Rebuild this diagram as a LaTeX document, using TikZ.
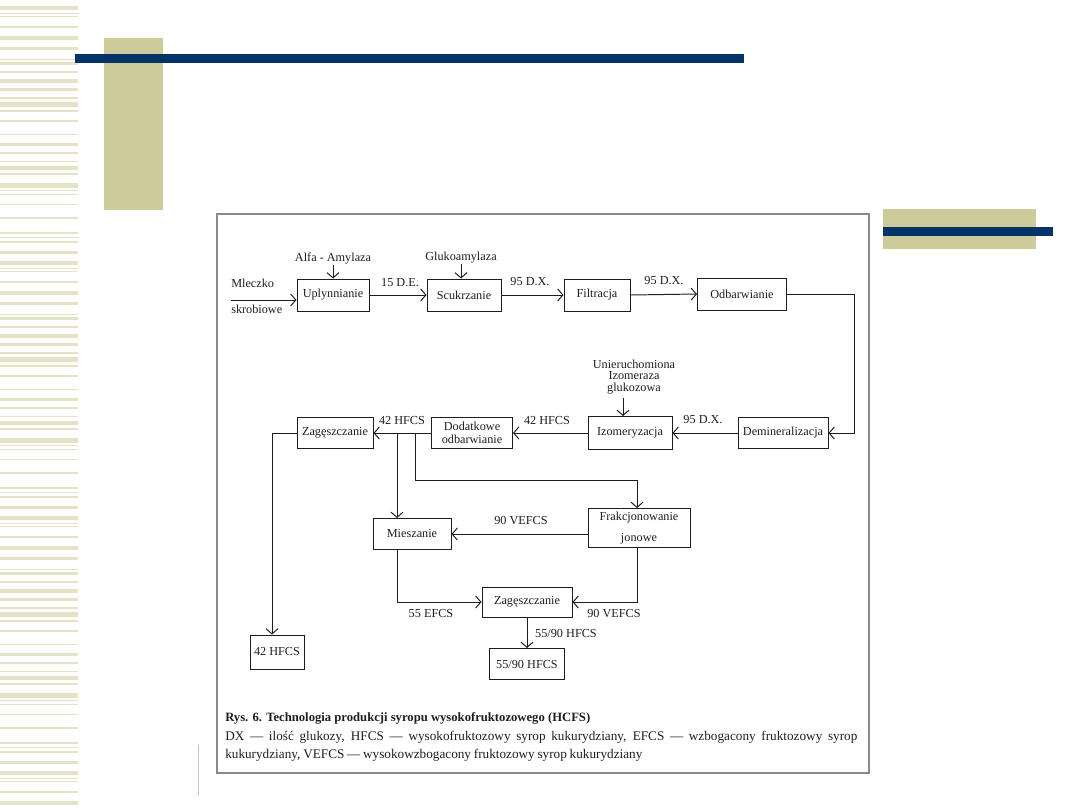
\documentclass[tikz,border=0pt]{standalone}
\usepackage{fontspec}
\setmainfont{Liberation Serif}
\usetikzlibrary{arrows.meta}
\definecolor{slidenavy}{HTML}{003366}
\definecolor{slidekhaki}{HTML}{CCCB99}
\definecolor{slidestripe}{HTML}{E4E3C8}
\definecolor{scanink}{HTML}{1E1E1E}
\definecolor{scanframe}{HTML}{8A8A8A}

\begin{document}
\begin{tikzpicture}[
    x=0.025cm, y=-0.025cm,
    proc/.style={draw=scanink, line width=0.7pt, inner sep=1pt, align=center,
      font=\fontsize{8.7}{9.5}\selectfont, text=scanink},
    flow/.style={draw=scanink, line width=0.7pt, -{Straight Barb[length=0.13cm, width=0.3cm]}},
    link/.style={draw=scanink, line width=0.7pt},
    lbl/.style={font=\fontsize{8.7}{8.4}\selectfont, text=scanink, inner sep=0pt, align=center},
    capt/.style={font=\fontsize{9.4}{11}\selectfont, text=scanink, anchor=west, inner sep=0pt},
  ]

  \def\pxu{0.025cm}
  \useasboundingbox (0,0) rectangle (1080,810);

  % ---- slide decoration
  \foreach \o in {0,255,510,765} {
    \foreach \a/\b in {6/10, 13/14, 16/17, 26/28, 36/40, 47/50, 59/60, 62/65, 71/73, 79/83,
                       88/91, 97/99, 102/107, 110/112, 120/122, 134/135, 143/146, 152/154,
                       161/162, 166/170, 173/175, 183/188, 190/191, 194/195, 204/205,
                       217/219, 232/234, 237/238, 241/243, 251/254} {
      \fill[slidestripe] (0,\a+\o) rectangle (78,\b+\o);
    }
  }
  \fill[slidekhaki] (104,38) rectangle (163,210);
  \fill[slidenavy] (75,54) rectangle (744,63);
  \fill[slidekhaki] (883,209) rectangle (1036,249);
  \fill[slidenavy] (883,227) rectangle (1053,236);

  % ---- scanned figure frame
  \draw[scanframe, line width=0.8pt] (217,214) rectangle (869,773);
  \draw[scanframe, line width=1.4pt] (217,773) -- (869,773);
  \draw[scanframe!50, line width=0.4pt] (198,745) -- (198,795);

  % ---- first row
  \node[proc, minimum width=72*\pxu, minimum height=32*\pxu] (upl) at (333,295) {Uplynnianie};
  \node[proc, minimum width=74*\pxu, minimum height=32*\pxu] (scu) at (464,295) {Scukrzanie};
  \node[proc, minimum width=66*\pxu, minimum height=32*\pxu] (fil) at (597,295) {Filtracja};
  \node[proc, minimum width=89*\pxu, minimum height=32*\pxu] (odb) at (742,294) {Odbarwianie};

  % ---- second row
  \node[proc, minimum width=90*\pxu, minimum height=31*\pxu] (dem) at (783,433) {Demineralizacja};
  \node[proc, minimum width=84*\pxu, minimum height=33*\pxu] (izo) at (630,433) {Izomeryzacja};
  \node[proc, minimum width=81*\pxu, minimum height=31*\pxu] (dod) at (472,433) {Dodatkowe\\odbarwianie};
  \node[proc, minimum width=76*\pxu, minimum height=31*\pxu] (zag1) at (335,433) {Zagęszczanie};

  % ---- lower part
  \node[proc, minimum width=78*\pxu, minimum height=31*\pxu] (mie) at (412,534) {Mieszanie};
  \node[proc, minimum width=102*\pxu, minimum height=39*\pxu] (fra) at (639,528) {Frakcjonowanie\\[5pt]jonowe};
  \node[proc, minimum width=90*\pxu, minimum height=30*\pxu] (zag2) at (527,602) {Zagęszczanie};
  \node[proc, minimum width=75*\pxu, minimum height=31*\pxu] (p5590) at (527,664) {55/90 HFCS};
  \node[proc, minimum width=54*\pxu, minimum height=34*\pxu] (p42) at (277,652) {42 HFCS};

  % ---- inputs
  \node[lbl, anchor=west] (mlecz) at (231,283) {Mleczko};
  \node[lbl, anchor=west] (skrob) at (231,309) {skrobiowe};
  \node[lbl] (alfa) at (333,259) {Alfa - Amylaza};
  \node[lbl] (gluk) at (461,258) {Glukoamylaza};
  \node[lbl] (uni) at (634,377) {Unieruchomiona\\Izomeraza\\glukozowa};
  \coordinate (feed) at (231,300);
  \coordinate (unidrop) at (623,398);

  \draw[flow] (feed) -- (feed -| upl.west);
  \draw[flow] (alfa.south) -- (upl.north);
  \draw[flow] (gluk.south) -- (gluk.south |- scu.north);
  \draw[flow] (unidrop) -- (unidrop |- izo.north);

  % ---- main line
  \coordinate (rt) at (854,294);
  \coordinate (lt) at (272,433);
  \coordinate (b1) at (397,433);
  \coordinate (b2) at (415,433);
  \coordinate (b3) at (415,480);
  \coordinate (b4) at (637,480);

  \draw[flow] (upl.east) -- (scu.west);
  \draw[flow] (scu.east) -- (fil.west);
  \draw[flow] (fil.east) -- (odb.west);
  \draw[flow] (odb.east) -- (rt) |- (dem.east);
  \draw[flow] (dem.west) -- (izo.east);
  \draw[flow] (izo.west) -- (dod.east);
  \draw[flow] (dod.west) -- (zag1.east);
  \draw[flow] (zag1.west) -- (lt) -- (lt |- p42.north);

  % ---- branches to the enriched syrups
  \draw[flow] (b1) -- (b1 |- mie.north);
  \draw[flow] (b2) -- (b3) -- (b4) -- (b4 |- fra.north);
  \draw[flow] (mie.east -| fra.west) -- (mie.east);
  \draw[flow] (b1 |- mie.south) |- (zag2.west);
  \draw[flow] (b4 |- fra.south) |- (zag2.east);
  \draw[flow] (zag2.south) -- (p5590.north);

  % ---- stream labels
  \node[lbl] (l15de) at (400,283) {15 D.E.};
  \node[lbl] (l95a) at (530,282) {95 D.X.};
  \node[lbl] (l95b) at (664,281) {95 D.X.};
  \node[lbl] (l95c) at (703,420) {95 D.X.};
  \node[lbl] (l42a) at (547,421) {42 HFCS};
  \node[lbl] (l42b) at (402,421) {42 HFCS};
  \node[lbl] (l90a) at (521,521) {90 VEFCS};
  \node[lbl] (l55) at (431,614) {55 EFCS};
  \node[lbl] (l90b) at (614,614) {90 VEFCS};
  \node[lbl] (l5590) at (566,633) {55/90 HFCS};

  % ---- caption
  \node[capt, font=\fontsize{9}{11}\selectfont\bfseries] (cap1) at (225,718)
    {Rys. 6. Technologia produkcji syropu wysokofruktozowego (HCFS)};
  \node[capt] (cap2) at (225,737)
    {\makebox[15.8cm][s]{DX — ilość glukozy, HFCS — wysokofruktozowy syrop kukurydziany, EFCS — wzbogacony fruktozowy syrop}};
  \node[capt] (cap3) at (225,755)
    {\makebox[10.425cm][s]{kukurydziany, VEFCS — wysokowzbogacony fruktozowy syrop kukurydziany}};

\end{tikzpicture}
\end{document}
